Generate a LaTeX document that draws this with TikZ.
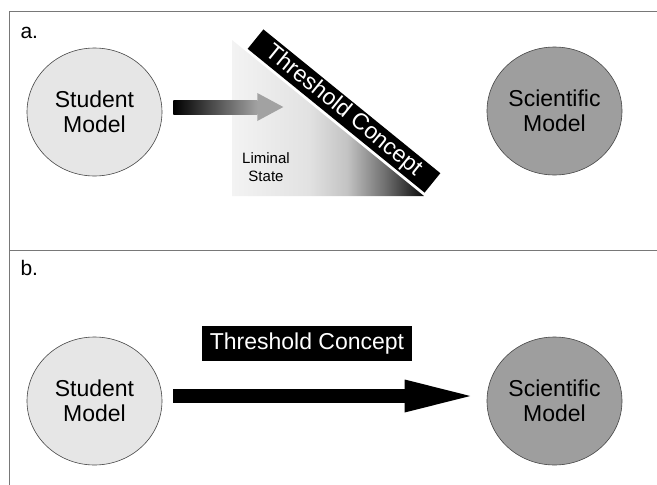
\documentclass[tikz,border=0pt]{standalone}
\usepackage{fontspec}
\setmainfont{Liberation Sans}
\usetikzlibrary{shapes.geometric,arrows.meta,calc}
\definecolor{framegray}{RGB}{120,120,120}
\definecolor{studentfill}{RGB}{230,230,230}
\definecolor{sciencefill}{RGB}{158,158,158}
\definecolor{outlinegray}{RGB}{70,70,70}
\definecolor{arrowgray}{RGB}{162,162,162}
\definecolor{limA}{RGB}{243,243,243}
\definecolor{limB}{RGB}{226,226,226}
\definecolor{limC}{RGB}{195,195,195}
\definecolor{limD}{RGB}{110,110,110}
\definecolor{limE}{RGB}{10,10,10}
\pgfdeclarehorizontalshading{liminal}{100bp}{color(0bp)=(limA); color(25bp)=(limA); color(45bp)=(limB); color(55bp)=(limC); color(65bp)=(limD); color(75bp)=(limE); color(100bp)=(limE)}
\tikzset{
  frameline/.style={draw=framegray, line width=0.9pt},
  model/.style={ellipse, draw=outlinegray, line width=0.6pt, minimum width=135pt, minimum height=128pt, inner sep=0pt, align=center, font=\fontsize{23}{25.5}\selectfont},
  studentmodel/.style={model, fill=studentfill},
  scimodel/.style={model, fill=sciencefill},
  panellabel/.style={anchor=base west, font=\fontsize{21}{21}\selectfont},
  tcbox/.style={fill=black, text=white, inner sep=0pt, font=\fontsize{23}{23}\selectfont}
}
\begin{document}
\begin{tikzpicture}[x=1pt,y=-1pt]
\useasboundingbox (0,0) rectangle (657,485);
\fill[white] (0,0) rectangle (657,485);
% frames
\draw[frameline] (657,11) -- (9,11) -- (9,485);
\draw[frameline] (9,250) -- (657,250);
% panel labels
\node[panellabel] (la) at (17,38) {a.};
\node[panellabel] (lb) at (17,275) {b.};
% ---------- panel a ----------
\node[studentmodel] (s1) at (94.5,112) {Student\\Model};
\node[scimodel] (c1) at (554.5,111) {Scientific\\Model};
% liminal triangle
\coordinate (t1) at (232,40);
\coordinate (t2) at (232,196);
\coordinate (t3) at (424,196);
\shade[shading=liminal] (t1) -- (t2) -- (t3) -- cycle;
\node[align=center, font=\fontsize{15}{18}\selectfont] (lim) at (266,167) {Liminal\\State};
% gradient arrow
\coordinate (ta) at ($(s1.east)+(11,-5)$);
\shade[left color=black, right color=arrowgray] ($(ta)+(0,-7)$) rectangle ($(ta)+(84,7)$);
\fill[arrowgray] ($(ta)+(84,-14)$) -- ($(ta)+(110,0)$) -- ($(ta)+(84,14)$) -- cycle;
% threshold band
\node[tcbox, rotate=-39.1, minimum width=228pt, minimum height=25pt] (tc1) at (344,111) {Threshold Concept};
% ---------- panel b ----------
\node[studentmodel] (s2) at (94.5,401) {Student\\Model};
\node[scimodel] (c2) at (554.5,401) {Scientific\\Model};
\node[tcbox, minimum width=210pt, minimum height=35pt] (tc2) at (307,343.5) {Threshold Concept};
\draw[line width=14pt, -{Triangle[length=75pt,width=28pt]}] ($(s2.east)+(11,-5)$) -- ($(c2.west)+(-7,-5)$);
\end{tikzpicture}
\end{document}
